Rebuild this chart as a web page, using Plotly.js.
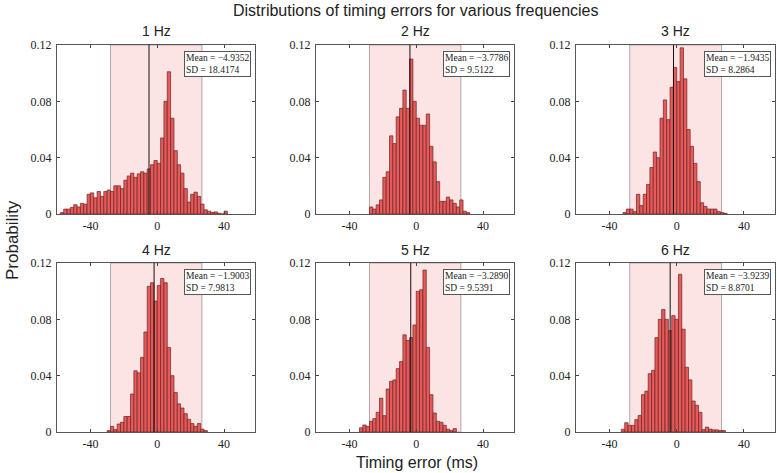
<!DOCTYPE html>
<html><head><meta charset="utf-8">
<script src="https://cdn.plot.ly/plotly-3.0.1.min.js"></script>
<style>html,body{margin:0;padding:0;background:#fff;} #chart{width:777px;height:473px;}</style>
</head><body><div id="chart"></div>
<script>
// ---- data ----
const panelTitles = ['1 Hz', '2 Hz', '3 Hz', '4 Hz', '5 Hz', '6 Hz'];
const meanValues = [-4.9352, -3.7786, -1.9435, -1.9003, -3.2890, -3.9239];
const sdValues = ['18.4174', '9.5122', '8.2864', '7.9813', '9.5391', '8.8701'];
const binWidth = 2;
const binStarts = [-58, -28, -32, -30, -34, -33];
const prob1Hz = [0.001, 0.0035, 0.0035, 0.0047, 0.0066, 0.005, 0.0076, 0.007,
  0.014, 0.015, 0.0115, 0.016, 0.0125, 0.016, 0.017, 0.016,
  0.020, 0.020, 0.018, 0.024, 0.027, 0.029, 0.026, 0.0285,
  0.030, 0.029, 0.032, 0.035, 0.038, 0.036, 0.054, 0.080, 0.101,
  0.068, 0.045, 0.035, 0.029, 0.018, 0.0085, 0.014, 0.0155, 0.0125, 0.007,
  0.003, 0.002, 0.0012, 0.0015, 0.0005, 0, 0.002];
const prob2Hz = [0.005, 0.0035, 0.0065, 0.010, 0.026, 0.030, 0.0555, 0.050, 0.069, 0.075,
  0.088, 0.075, 0.110, 0.080, 0.068, 0.063, 0.063, 0.071, 0.048, 0.037,
  0.023, 0.009, 0.009, 0.012, 0.010, 0.0075, 0.005, 0.010, 0.002, 0.001];
const prob3Hz = [0.001, 0.0035, 0.0035, 0.0017, 0.014, 0.006, 0.014, 0.021, 0.033, 0.044,
  0.040, 0.068, 0.081, 0.067, 0.090, 0.104, 0.094, 0.118, 0.096, 0.060,
  0.048, 0.036, 0.023, 0.008, 0.0054, 0.0035, 0.0035, 0.0035, 0.0017, 0.001, 0.0005];
const prob4Hz = [0.001, 0.004, 0.0017, 0.0057, 0.0069, 0.011, 0.011, 0.027, 0.0435, 0.042,
  0.053, 0.071, 0.1035, 0.106, 0.093, 0.104, 0.109, 0.106, 0.060, 0.040,
  0.028, 0.020, 0.017, 0.013, 0.009, 0.006, 0.004, 0.006, 0.002, 0.001];
const prob5Hz = [0.003, 0.005, 0.004, 0.0076, 0.0095, 0.014, 0.024, 0.0116, 0.0305, 0.036,
  0.037, 0.045, 0.050, 0.069, 0.065, 0.067, 0.076, 0.0999, 0.101, 0.115,
  0.060, 0.0265, 0.0135, 0.0076, 0.0069, 0.0047, 0.002, 0.001, 0.0024];
const prob6Hz = [0.002, 0.0066, 0.0047, 0.0047, 0.0088, 0.0118, 0.0265, 0.029, 0.0414, 0.0438,
  0.067, 0.080, 0.087, 0.080, 0.072, 0.0826, 0.080, 0.112, 0.073, 0.046,
  0.037, 0.022, 0.019, 0.014, 0.0017, 0.0035, 0.002, 0.0015, 0.0015, 0.001, 0.001];
const shadeLow = -28, shadeHigh = 26.7;
const xTickVals = [-40, 0, 40];
const xTickText = ['-40', '0', '40'];
const yTickVals = [0, 0.04, 0.08, 0.12];
const yTickText = ['0', '0.04', '0.08', '0.12'];
const xRange = [-60, 58.5];
const yRange = [0, 0.12];

const allProbs = [prob1Hz, prob2Hz, prob3Hz, prob4Hz, prob5Hz, prob6Hz];

// ---- layout geometry ----
const W = 777, H = 473;
const colPx = [[57, 255], [316, 514], [576, 775]];
const rowPx = [[45, 214], [263, 432]];
const serif = 'Liberation Serif, Times New Roman, serif';
const sans = 'Liberation Sans, Arial, sans-serif';

const traces = [];
const shapes = [];
const annotations = [];
const layout = {
  width: W, height: H,
  margin: {l: 0, r: 0, t: 0, b: 0},
  paper_bgcolor: '#fff', plot_bgcolor: '#fff',
  bargap: 0, showlegend: false,
  font: {family: sans, color: '#222'}
};

allProbs.forEach((probs, i) => {
  const n = i + 1;
  const sfx = n === 1 ? '' : String(n);
  const row = Math.floor(i / 3), col = i % 3;
  const xd = [colPx[col][0] / W, colPx[col][1] / W];
  const yd = [1 - rowPx[row][1] / H, 1 - rowPx[row][0] / H];
  const centers = probs.map((_, k) => binStarts[i] + binWidth * (k + 0.5));
  traces.push({
    type: 'bar', x: centers, y: probs, width: binWidth,
    xaxis: 'x' + sfx, yaxis: 'y' + sfx,
    marker: {color: '#E75A5A', line: {color: '#6a2424', width: 0.7}},
    hoverinfo: 'x+y'
  });
  const axCommon = {
    ticks: 'inside', ticklen: 3, tickcolor: '#444', tickwidth: 1,
    showline: true, linecolor: '#555', linewidth: 1, mirror: 'allticks',
    showgrid: false, zeroline: false,
    tickfont: {family: serif, size: 12, color: '#222'}
  };
  layout['xaxis' + sfx] = Object.assign({}, axCommon, {
    domain: xd, range: xRange, tickmode: 'array', tickvals: xTickVals, ticktext: xTickText,
    anchor: 'y' + sfx, ticklabelstandoff: 1
  });
  layout['yaxis' + sfx] = Object.assign({}, axCommon, {
    domain: yd, range: yRange, tickmode: 'array', tickvals: yTickVals, ticktext: yTickText,
    anchor: 'x' + sfx, ticklabelstandoff: 2
  });
  shapes.push({
    type: 'rect', xref: 'x' + sfx, yref: 'y' + sfx + ' domain',
    x0: shadeLow, x1: shadeHigh, y0: 0, y1: 1,
    fillcolor: '#FDE4E4', line: {color: '#B3A6A6', width: 1}, layer: 'below'
  });
  shapes.push({
    type: 'line', xref: 'x' + sfx, yref: 'y' + sfx + ' domain',
    x0: meanValues[i], x1: meanValues[i], y0: 0, y1: 1,
    line: {color: '#111', width: 1}, layer: 'above'
  });
  const meanTxt = meanValues[i].toFixed(4).replace('-', '\u2212');
  annotations.push({
    xref: 'x' + sfx + ' domain', yref: 'y' + sfx + ' domain',
    x: 0.978, y: 0.966, xanchor: 'right', yanchor: 'top',
    text: 'Mean = ' + meanTxt + '<br>SD = ' + sdValues[i],
    align: 'left', showarrow: false,
    font: {family: serif, size: 9.5, color: '#222'},
    bgcolor: '#fff', bordercolor: '#555', borderwidth: 1, borderpad: 1
  });
  annotations.push({
    xref: 'paper', yref: 'paper',
    x: (xd[0] + xd[1]) / 2, y: row === 0 ? 1 - 31 / H : 1 - 250 / H,
    xanchor: 'center', yanchor: 'middle', showarrow: false,
    text: panelTitles[i], font: {family: sans, size: 14, color: '#222'}
  });
});

annotations.push({
  xref: 'paper', yref: 'paper', x: 415 / W, y: 1 - 10 / H,
  xanchor: 'center', yanchor: 'middle', showarrow: false,
  text: 'Distributions of timing errors for various frequencies',
  font: {family: sans, size: 16, color: '#222'}
});
annotations.push({
  xref: 'paper', yref: 'paper', x: 12 / W, y: 1 - 240 / H,
  xanchor: 'center', yanchor: 'middle', showarrow: false, textangle: -90,
  text: 'Probability', font: {family: sans, size: 17, color: '#222'}
});
annotations.push({
  xref: 'paper', yref: 'paper', x: 417 / W, y: 0,
  xanchor: 'center', yanchor: 'bottom', showarrow: false,
  text: 'Timing error (ms)', font: {family: sans, size: 16, color: '#222'}
});

layout.shapes = shapes;
layout.annotations = annotations;
Plotly.newPlot('chart', traces, layout, {staticPlot: true, displayModeBar: false});
</script>
</body></html>
